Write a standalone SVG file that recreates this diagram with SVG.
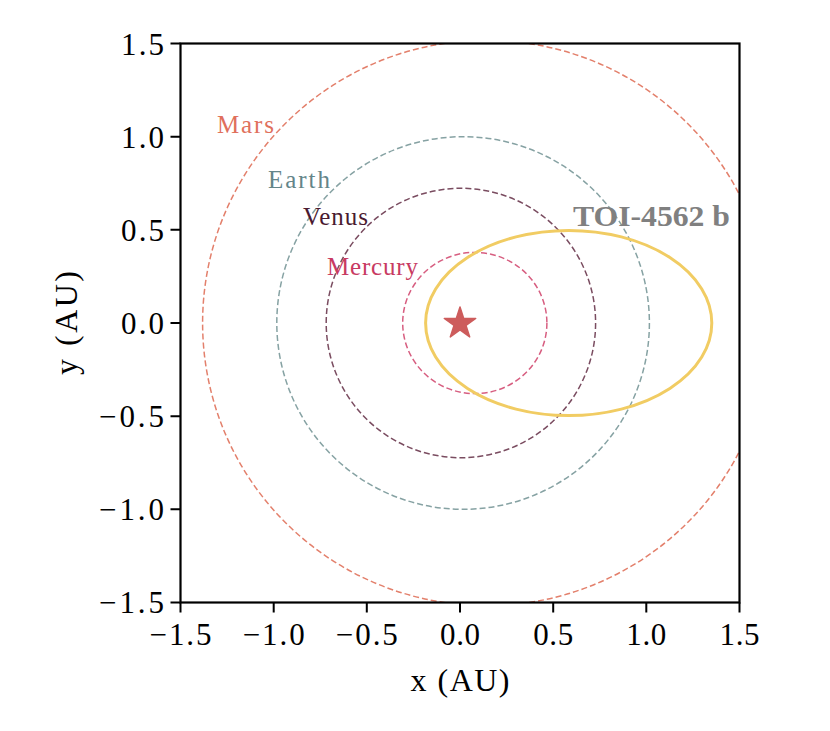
<svg xmlns="http://www.w3.org/2000/svg" width="830" height="731" viewBox="0 0 830 731">
<style>
.tick{font-family:"Liberation Serif",serif;font-size:31px;fill:#000}
.lab{font-family:"Liberation Serif",serif;font-size:32px;fill:#000}
.orb{fill:none;stroke-width:1.5;stroke-dasharray:6 3}
.nm{font-family:"Liberation Serif",serif;font-size:25px}
.tk{stroke:#000;stroke-width:2}
</style>
<defs>
<clipPath id="plot"><rect x="180.5" y="43.5" width="559" height="559"/></clipPath>
</defs>
<rect width="830" height="731" fill="#fff"/>
<g id="orbits" clip-path="url(#plot)">
<ellipse id="mars-orbit" class="orb" cx="486.5" cy="323" rx="283.9" ry="282.7" stroke="#e3806c"/>
<ellipse id="earth-orbit" class="orb" cx="463.1" cy="323" rx="186.3" ry="186.3" stroke="#86a2a3"/>
<ellipse id="venus-orbit" class="orb" cx="460.9" cy="323" rx="134.7" ry="134.7" stroke="#7a4c60"/>
<ellipse id="mercury-orbit" class="orb" cx="474.8" cy="323" rx="72.1" ry="70.6" stroke="#d75e80"/>
<ellipse id="toi-orbit" cx="568.7" cy="323" rx="143.1" ry="92.6" fill="none" stroke="#f1cc63" stroke-width="3"/>
</g>
<g id="star">
<polygon transform="translate(460,323.5)" fill="#cd5c5c" stroke="#cd5c5c" stroke-width="1.5" stroke-linejoin="round" points="0,-16.5 3.7,-5.1 15.7,-5.1 6,1.9 9.7,13.4 0,6.3 -9.7,13.4 -6,1.9 -15.7,-5.1 -3.7,-5.1"/>
</g>
<g id="labels">
<text class="nm" x="217" y="133" fill="#e0705c" textLength="57">Mars</text>
<text class="nm" x="268" y="188" fill="#648589" textLength="62">Earth</text>
<text class="nm" x="303" y="225" fill="#4a1a30" textLength="65">Venus</text>
<text class="nm" x="327" y="275" fill="#c83a62" textLength="91">Mercury</text>
<text x="573" y="226" font-family="Liberation Serif,serif" font-size="29" font-weight="bold" fill="#808080" textLength="157" lengthAdjust="spacingAndGlyphs">TOI-4562 b</text>
</g>
<g id="axes">
<rect x="180.5" y="43.5" width="559" height="559" fill="none" stroke="#000" stroke-width="2.2"/>
<path class="tk" d="M180.5,602.5v10M273.7,602.5v10M366.8,602.5v10M460,602.5v10M553.2,602.5v10M646.3,602.5v10M739.5,602.5v10M180.5,43.5h-10M180.5,136.7h-10M180.5,229.8h-10M180.5,323h-10M180.5,416.2h-10M180.5,509.3h-10M180.5,602.5h-10"/>
<g class="tick" text-anchor="middle">
<text x="180.5" y="645" textLength="62">−1.5</text>
<text x="273.7" y="645" textLength="62">−1.0</text>
<text x="366.8" y="645" textLength="62">−0.5</text>
<text x="460" y="645" textLength="40">0.0</text>
<text x="553.2" y="645" textLength="40">0.5</text>
<text x="646.3" y="645" textLength="40">1.0</text>
<text x="739.5" y="645" textLength="40">1.5</text>
</g>
<g class="tick" text-anchor="end">
<text x="164" y="55" textLength="43">1.5</text>
<text x="164" y="148" textLength="43">1.0</text>
<text x="164" y="241" textLength="43">0.5</text>
<text x="164" y="334" textLength="43">0.0</text>
<text x="164" y="427" textLength="65">−0.5</text>
<text x="164" y="520" textLength="65">−1.0</text>
<text x="164" y="613" textLength="65">−1.5</text>
</g>
<text class="lab" x="460" y="691" text-anchor="middle" textLength="99">x (AU)</text>
<text class="lab" transform="translate(77,323) rotate(-90)" text-anchor="middle" textLength="104">y (AU)</text>
</g>
</svg>
